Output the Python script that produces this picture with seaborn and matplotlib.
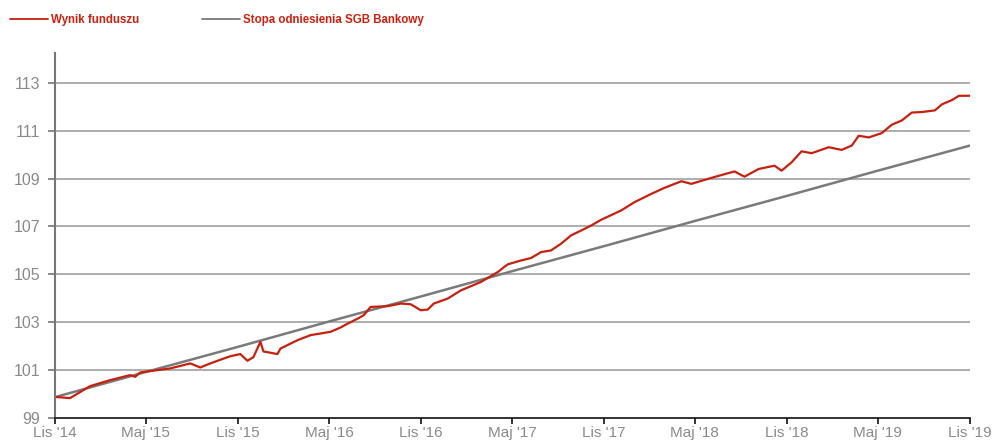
import matplotlib
import matplotlib.pyplot as plt
import pandas as pd
import seaborn as sns

matplotlib.use("Agg")

# fund result
FUND_DATES = [
    "2014-11-01", "2014-12-01", "2014-12-21", "2015-01-10", "2015-02-19",
    "2015-03-31", "2015-04-10", "2015-04-20", "2015-06-19", "2015-07-29",
    "2015-08-18", "2015-09-07", "2015-10-17", "2015-11-06", "2015-11-20",
    "2015-12-02", "2015-12-16", "2015-12-22", "2016-01-19", "2016-01-25",
    "2016-02-28", "2016-03-25", "2016-05-04", "2016-05-24", "2016-06-07",
    "2016-06-27", "2016-07-09", "2016-07-23", "2016-08-26", "2016-09-21",
    "2016-10-11", "2016-10-31", "2016-11-14", "2016-11-26", "2016-12-24",
    "2017-01-19", "2017-02-28", "2017-04-03", "2017-04-15", "2017-04-23",
    "2017-05-19", "2017-06-08", "2017-06-28", "2017-07-18", "2017-08-07",
    "2017-08-27", "2017-09-16", "2017-10-06", "2017-10-26", "2017-12-05",
    "2017-12-31", "2018-02-03", "2018-03-01", "2018-04-04", "2018-04-24",
    "2018-06-03", "2018-07-19", "2018-08-08", "2018-09-05", "2018-10-07",
    "2018-10-21", "2018-11-10", "2018-11-30", "2018-12-20", "2019-01-23",
    "2019-02-18", "2019-03-10", "2019-03-24", "2019-04-13", "2019-05-09",
    "2019-05-29", "2019-06-18", "2019-07-08", "2019-07-28", "2019-08-23",
    "2019-09-06", "2019-09-26", "2019-10-10", "2019-11-01",
]
FUND_VALUES = [
    99.88, 99.83, 100.08, 100.33, 100.58,
    100.79, 100.72, 100.90, 101.07, 101.28,
    101.11, 101.28, 101.58, 101.67, 101.39,
    101.54, 102.18, 101.78, 101.67, 101.90,
    102.25, 102.46, 102.60, 102.78, 102.94,
    103.15, 103.29, 103.64, 103.67, 103.78,
    103.75, 103.50, 103.53, 103.78, 103.99,
    104.33, 104.68, 105.10, 105.30, 105.42,
    105.58, 105.68, 105.93, 106.00, 106.28,
    106.63, 106.83, 107.04, 107.28, 107.67,
    108.01, 108.36, 108.61, 108.89, 108.78,
    109.03, 109.30, 109.08, 109.40, 109.54,
    109.33, 109.68, 110.14, 110.06, 110.31,
    110.20, 110.38, 110.79, 110.72, 110.90,
    111.25, 111.43, 111.76, 111.78, 111.85,
    112.10, 112.28, 112.46, 112.46,
]

# benchmark (SGB Bankowy), read at the half-year ticks
BENCH_DATES = [
    "2014-11-01", "2015-05-01", "2015-11-01", "2016-05-01", "2016-11-01",
    "2017-05-01", "2017-11-01", "2018-05-01", "2018-11-01", "2019-05-01",
    "2019-11-01",
]
BENCH_VALUES = [
    99.87, 100.92, 101.97, 103.03, 104.08,
    105.13, 106.18, 107.23, 108.28, 109.33, 110.38,
]

TICK_DATES = BENCH_DATES
TICK_LABELS = [
    "Lis '14", "Maj '15", "Lis '15", "Maj '16", "Lis '16", "Maj '17",
    "Lis '17", "Maj '18", "Lis '18", "Maj '19", "Lis '19",
]
Y_TICKS = [99, 101, 103, 105, 107, 109, 111, 113]

RED = "#c8200e"
GREY = "#7a7a7a"
LEGEND_FONT = {"family": ["Liberation Sans Narrow", "Liberation Sans", "DejaVu Sans"],
               "weight": "bold", "size": 8.3}

sns.set_theme(style="white")
plt.rcParams["font.family"] = ["Liberation Sans", "DejaVu Sans"]

fund = pd.DataFrame({"date": pd.to_datetime(FUND_DATES), "value": FUND_VALUES})
bench = pd.DataFrame({"date": pd.to_datetime(BENCH_DATES), "value": BENCH_VALUES})

fig = plt.figure(figsize=(10.01, 4.41), dpi=100)
ax = fig.add_axes([0.0549, 0.0522, 0.9141, 0.8278])

for y in Y_TICKS[1:]:
    ax.axhline(y, color="#a0a0a0", lw=1.2, zorder=0)

sns.lineplot(data=bench, x="date", y="value", ax=ax, color=GREY, lw=1.8,
             label="Stopa odniesienia SGB Bankowy")
sns.lineplot(data=fund, x="date", y="value", ax=ax, color=RED, lw=1.6,
             label="Wynik funduszu")

ax.set_xlim(pd.Timestamp("2014-11-01"), pd.Timestamp("2019-11-01"))
ax.set_ylim(99, 114.25)
ax.set_yticks(Y_TICKS)
ax.set_yticklabels([str(v) for v in Y_TICKS])
ax.set_xticks(pd.to_datetime(TICK_DATES))
ax.set_xticklabels(TICK_LABELS)
ax.set_xlabel("")
ax.set_ylabel("")

for side in ["top", "right"]:
    ax.spines[side].set_visible(False)
ax.spines["left"].set_color("#777777")
ax.spines["left"].set_linewidth(1.5)
ax.spines["bottom"].set_color("#111111")
ax.spines["bottom"].set_linewidth(1.2)

ax.tick_params(axis="y", which="major", left=True, length=5, width=1.2,
               color="#777777", labelcolor="#8a8a8a", labelsize=11.5, pad=5.5)
ax.tick_params(axis="x", which="major", bottom=True, length=4.5, width=1.2,
               color="#111111", labelcolor="#8a8a8a", labelsize=11, pad=1.5)

# two one-entry legends, placed like the reference header
handles, labels = ax.get_legend_handles_labels()
ax.get_legend().remove()
for idx, x0 in [(1, 10 / 1001), (0, 202 / 1001)]:
    leg = fig.legend(
        [handles[idx]], [labels[idx]],
        loc="center left", bbox_to_anchor=(x0, 1 - 20 / 441),
        frameon=False, borderpad=0, borderaxespad=0,
        handlelength=3.3, handletextpad=0.25, prop=LEGEND_FONT,
    )
    for line in leg.get_lines():
        line.set_linewidth(1.3)
    for text in leg.get_texts():
        text.set_color("#d0200f")

fig.savefig("out.png", dpi=100)
plt.close(fig)
